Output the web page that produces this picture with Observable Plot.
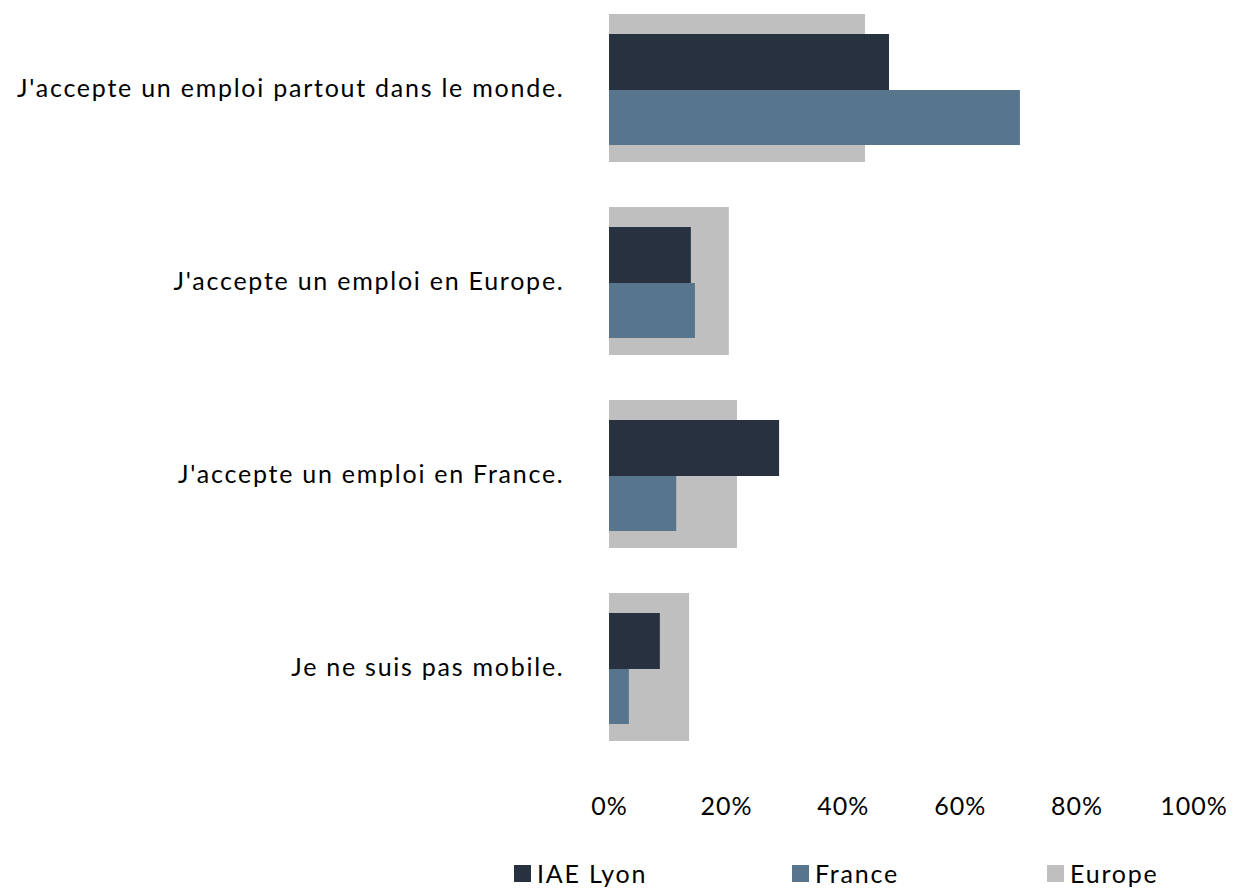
<!DOCTYPE html>
<html>
<head>
<meta charset="utf-8">
<script src="https://cdn.jsdelivr.net/npm/d3@7"></script>
<script src="https://cdn.jsdelivr.net/npm/@observablehq/plot@0.6"></script>
<style>
  body { margin: 0; background: #fff; font-family: Lato, sans-serif; }
  #wrap { position: relative; width: 1234px; height: 889px; }
  #legend { position: absolute; left: 0; top: 845px; width: 1234px; height: 44px; font-size: 25px; color: #000; letter-spacing: 1.8px; }
  .item { position: absolute; top: 14px; display: flex; align-items: center; height: 28px; }
  .sw { width: 17px; height: 17px; margin-right: 6px; }
  g[aria-label="y-axis tick label"] { letter-spacing: 1.75px; }
  g[aria-label="x-axis tick label"] { letter-spacing: 1px; }
</style>
</head>
<body>
<div id="wrap">
  <div id="chart"></div>
  <div id="legend"></div>
</div>
<script>
const categories = [
  "J'accepte un emploi partout dans le monde.",
  "J'accepte un emploi en Europe.",
  "J'accepte un emploi en France.",
  "Je ne suis pas mobile."
];
const seriesNames = ["IAE Lyon", "France", "Europe"];
const seriesColors = ["#28313f", "#57768e", "#bfbfbf"];
const iaeLyon = [0.479, 0.140, 0.291, 0.087];
const france  = [0.703, 0.147, 0.115, 0.034];
const europe  = [0.438, 0.205, 0.219, 0.137];
const xTicks = [0, 0.2, 0.4, 0.6, 0.8, 1];

const mk = (vals) => categories.map((c, i) => ({category: c, value: vals[i]}));

const chart = Plot.plot({
  width: 1234,
  height: 845,
  marginLeft: 609,
  marginRight: 40.5,
  marginTop: 13,
  marginBottom: 104,
  style: { fontFamily: "Lato, sans-serif", fontSize: "25px", color: "#000", background: "#fff" },
  x: { domain: [0, 1], ticks: xTicks, tickFormat: d3.format(".0%"), label: null },
  y: { domain: categories, paddingInner: 0.234, paddingOuter: 0, label: null },
  marks: [
    Plot.barX(mk(europe), { y: "category", x: "value", fill: seriesColors[2] }),
    Plot.barX(mk(iaeLyon), { y: "category", x: "value", fill: seriesColors[0], insetTop: 20, insetBottom: 72 }),
    Plot.barX(mk(france), { y: "category", x: "value", fill: seriesColors[1], insetTop: 76, insetBottom: 17 }),
    Plot.axisX({ ticks: xTicks, tickFormat: d3.format(".0%"), tickSize: 0, tickPadding: 56, label: null }),
    Plot.axisY({ tickSize: 0, tickPadding: 45, label: null })
  ]
});
document.getElementById("chart").appendChild(chart);

const legendLeft = [514, 792, 1047];
const legend = document.getElementById("legend");
seriesNames.forEach((name, i) => {
  const item = document.createElement("div");
  item.className = "item";
  item.style.left = legendLeft[i] + "px";
  const sw = document.createElement("div");
  sw.className = "sw";
  sw.style.background = seriesColors[i];
  const t = document.createElement("span");
  t.textContent = name;
  item.appendChild(sw);
  item.appendChild(t);
  legend.appendChild(item);
});
</script>
</body>
</html>
